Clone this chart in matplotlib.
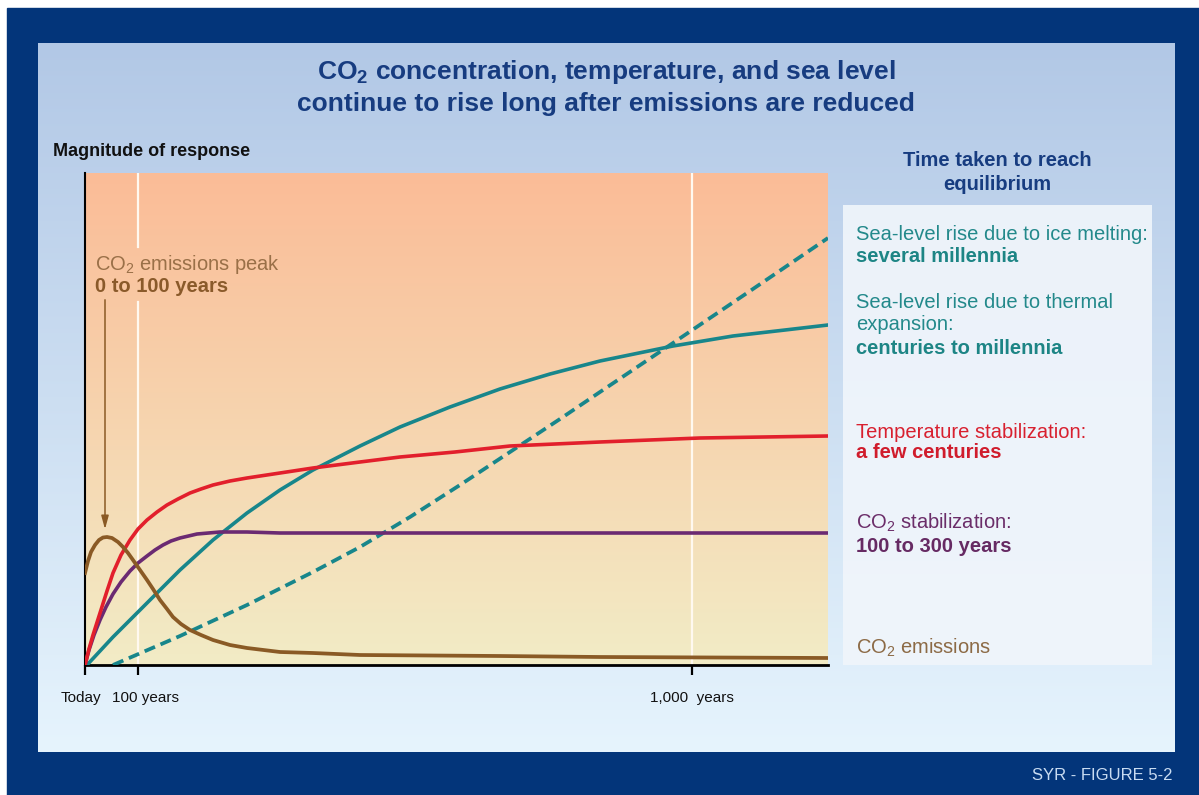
import matplotlib
matplotlib.use("Agg")
import matplotlib.pyplot as plt
import matplotlib.transforms as mtransforms
from matplotlib.patches import Rectangle
import numpy as np

W, H = 1199, 795
FONT = ["Liberation Sans", "DejaVu Sans"]
plt.rcParams["font.family"] = FONT
plt.rcParams["mathtext.fontset"] = "custom"
plt.rcParams["mathtext.rm"] = "Liberation Sans"
plt.rcParams["mathtext.it"] = "Liberation Sans:italic"
plt.rcParams["mathtext.bf"] = "Liberation Sans:bold"
plt.rcParams["mathtext.default"] = "regular"

# x positions on the (non-linear) time axis, y = magnitude of response (arbitrary units)
tick_pos = [0, 53, 607]
tick_labels = ["Today", "100 years", "1,000  years"]

ice_x = [28, 95, 162, 228, 275, 325, 375, 425, 475, 515, 588, 665, 743]
ice_y = [0, 29, 60, 93, 118, 148, 180, 213, 246, 273, 322, 374, 427]

thermal_x = [0, 2, 28, 62, 78, 95, 128, 162, 195, 228, 275, 315, 365, 415, 465, 515, 588, 648, 700, 743]
thermal_y = [0, 0, 28, 62, 78, 95, 125, 152, 175, 195, 219, 238, 258, 276, 291, 304, 319, 329, 335, 340]

temp_x = [0, 4, 8, 15, 22, 28, 36, 45, 53, 62, 72, 82, 93, 105, 116, 128, 145, 162, 195,
          228, 275, 315, 370, 425, 515, 615, 743]
temp_y = [0, 16, 30, 52, 74, 92, 110, 125, 136, 145, 153, 160, 166, 172, 176, 180, 184, 187, 192,
          197, 203, 208, 213, 219, 223, 227, 229]

co2_x = [0, 4, 9, 15, 21, 28, 36, 45, 53, 62, 70, 78, 86, 95, 112, 135, 162, 195, 275, 450, 743]
co2_y = [0, 15, 30, 45, 58, 71, 83, 94, 102, 109, 115, 120, 124, 127, 131, 133, 133, 132, 132, 132, 132]

emis_x = [0, 3, 6, 10, 14, 18, 22, 27, 33, 38, 43, 48, 55, 62, 68, 75, 82, 88, 96, 105, 116,
          128, 145, 162, 195, 228, 275, 415, 515, 743]
emis_y = [92, 104, 113, 120, 125, 127.5, 128, 127, 123, 118, 112, 105, 95, 85, 76, 65, 56, 48, 41, 35, 30,
          25, 20, 17, 13, 12, 10, 9, 8, 7]

navy = "#03357a"
title_c = "#173c80"
teal = "#18868b"
red = "#e21f2c"
purple = "#6b2a72"
brown = "#8a5a25"


def fx(px):
    return px / W


def fy(py):
    return 1 - py / H


def vgrad(top, bottom, n=256):
    t = np.linspace(0, 1, n)[:, None, None]
    a = np.array(matplotlib.colors.to_rgb(top))[None, None, :]
    b = np.array(matplotlib.colors.to_rgb(bottom))[None, None, :]
    return a * (1 - t) + b * t


fig = plt.figure(figsize=(W / 100, H / 100), dpi=100)
fig.patch.set_facecolor("white")
fig.add_artist(Rectangle((fx(7), 0), 1 - fx(7), fy(8), transform=fig.transFigure,
                         color=navy, zorder=0))

# light blue panel
bg = fig.add_axes([fx(38), fy(752), fx(1175 - 38), (752 - 43) / H])
bg.imshow(vgrad("#b2c8e6", "#e6f4fd"), aspect="auto", extent=[0, 1, 0, 1])
bg.axis("off")

# right legend box
fig.add_artist(Rectangle((fx(843), fy(665)), fx(309), 460 / H, transform=fig.transFigure,
                         facecolor="#f0f5fb", alpha=0.92, edgecolor="none", zorder=1))

ax = fig.add_axes([fx(85), fy(665), fx(743), 492 / H])
ax.imshow(vgrad("#fbbc97", "#f2ecc6"), aspect="auto", extent=[0, 743, 0, 492], zorder=0)
ax.set_xlim(0, 743)
ax.set_ylim(0, 492)

# white guide lines
ax.plot([53, 53], [0, 363], color="#fff9f0", lw=1.6, zorder=1)
ax.plot([53, 53], [418, 492], color="#fff9f0", lw=1.6, zorder=1)
ax.axvline(607, color="#fff9f0", lw=1.6, zorder=1)

ax.plot(ice_x, ice_y, color=teal, lw=2.7, dashes=(3, 1.6), zorder=3)
ax.plot(thermal_x, thermal_y, color=teal, lw=2.6, zorder=3, solid_joinstyle="round")
ax.plot(co2_x, co2_y, color=purple, lw=2.6, zorder=3, solid_joinstyle="round")
ax.plot(temp_x, temp_y, color=red, lw=2.6, zorder=4, solid_joinstyle="round")
ax.plot(emis_x, emis_y, color=brown, lw=2.7, zorder=4, solid_joinstyle="round")

ax.annotate("", xy=(20, 133), xytext=(20, 368),
            arrowprops=dict(arrowstyle="-|>,head_length=0.8,head_width=0.22",
                            color=brown, lw=1.1), zorder=5)

for s in ["top", "right"]:
    ax.spines[s].set_visible(False)
ax.spines["left"].set_linewidth(1.5)
ax.spines["bottom"].set_linewidth(2)
ax.set_yticks([])
ax.set_xticks(tick_pos)
ax.set_xticklabels(tick_labels, fontsize=11, color="#111111")
ax.tick_params(axis="x", length=7, width=1.6, pad=12)
lbls = ax.get_xticklabels()
lbls[0].set_transform(lbls[0].get_transform() + mtransforms.ScaledTranslation(-4 / 100, 0, fig.dpi_scale_trans))
lbls[1].set_transform(lbls[1].get_transform() + mtransforms.ScaledTranslation(8 / 100, 0, fig.dpi_scale_trans))

# texts
fig.text(fx(606), fy(72), r"$\mathbf{CO_2}$ concentration, temperature, and sea level", ha="center",
         va="center", fontsize=19, fontweight="bold", color=title_c)
fig.text(fx(606), fy(104), "continue to rise long after emissions are reduced", ha="center", va="center",
         fontsize=19, fontweight="bold", color=title_c)
fig.text(fx(53), fy(152), "Magnitude of response", ha="left", va="center",
         fontsize=13, fontweight="bold", color="#111111")
fig.text(fx(997), fy(161), "Time taken to reach", ha="center", va="center",
         fontsize=14.5, fontweight="bold", color=title_c)
fig.text(fx(997), fy(184), "equilibrium", ha="center", va="center",
         fontsize=14.5, fontweight="bold", color=title_c)

fig.text(fx(95), fy(265), "CO$_2$ emissions peak", ha="left", va="center", fontsize=14.5, color="#9a7048")
fig.text(fx(95), fy(287), "0 to 100 years", ha="left", va="center", fontsize=14.5,
         fontweight="bold", color="#8a5a2a")

legend_items = [
    (235, "Sea-level rise due to ice melting:", "normal", "#23898b"),
    (257, "several millennia", "bold", "#1d8585"),
    (302, "Sea-level rise due to thermal", "normal", "#23898b"),
    (325, "expansion:", "normal", "#23898b"),
    (348, "centuries to millennia", "bold", "#1d8585"),
    (432, "Temperature stabilization:", "normal", "#d8202f"),
    (453, "a few centuries", "bold", "#d01c2c"),
    (523, "CO$_2$ stabilization:", "normal", "#6b2d69"),
    (546, "100 to 300 years", "bold", "#662a63"),
    (648, "CO$_2$ emissions", "normal", "#8c6a45"),
]
for py, txt, wt, col in legend_items:
    fig.text(fx(856), fy(py), txt, ha="left", va="center", fontsize=14.5, fontweight=wt,
             color=col, zorder=3)

fig.text(fx(1172), fy(775), "SYR - FIGURE 5-2", ha="right", va="center", fontsize=12, color="#c9dcf2")

fig.savefig("out.png", dpi=100)
